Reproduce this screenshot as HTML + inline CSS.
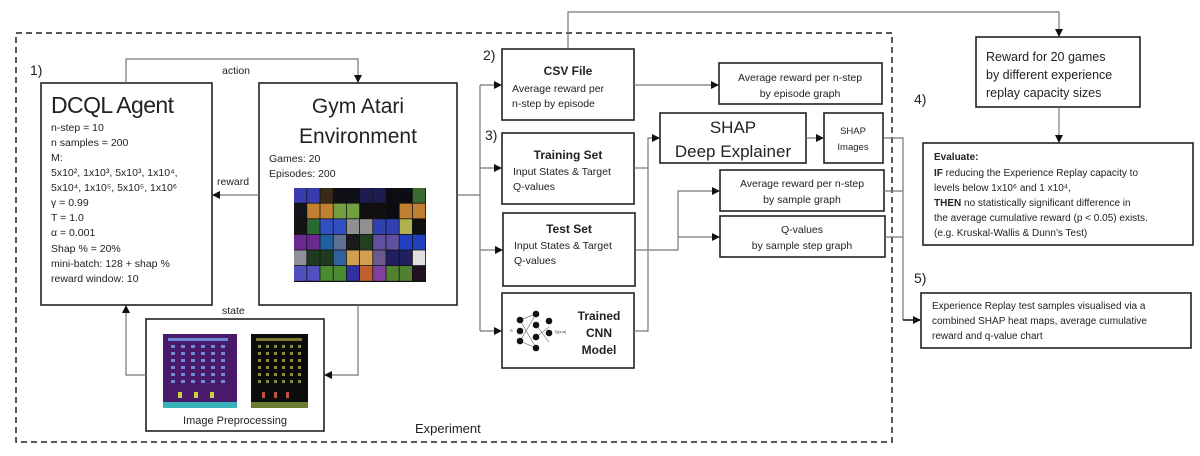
<!DOCTYPE html>
<html><head><meta charset="utf-8"><style>
html,body{margin:0;padding:0;background:#fff;}
svg{display:block;}
text{font-family:"Liberation Sans",sans-serif;fill:#222;}
.b{font-weight:bold;}
</style></head><body>
<svg width="1200" height="456" viewBox="0 0 1200 456" xmlns="http://www.w3.org/2000/svg">
<defs>
<marker id="a" markerWidth="8" markerHeight="8" refX="7" refY="4" orient="auto" markerUnits="userSpaceOnUse">
<path d="M0,0 L8,4 L0,8 z" fill="#111"/></marker>
<pattern id="inv1" x="171" y="345" width="10" height="7" patternUnits="userSpaceOnUse"><rect width="4" height="3" fill="#6a8ad8"/></pattern>
<pattern id="inv2" x="258" y="345" width="8" height="7" patternUnits="userSpaceOnUse"><rect width="3" height="3" fill="#8a8a40"/></pattern>
</defs>
<rect x="16" y="33" width="876" height="409" fill="none" stroke="#222" stroke-width="1.5" stroke-dasharray="6,4"/>
<g fill="none" stroke="#222" stroke-width="1.6">
<rect x="41" y="83" width="171" height="222"/>
<rect x="259" y="83" width="198" height="222"/>
<rect x="146" y="319" width="178" height="112"/>
<rect x="502" y="49" width="132" height="71"/>
<rect x="502" y="133" width="132" height="71"/>
<rect x="503" y="213" width="132" height="73"/>
<rect x="502" y="293" width="132" height="75"/>
<rect x="719" y="63" width="163" height="41"/>
<rect x="660" y="113" width="146" height="50"/>
<rect x="824" y="113" width="59" height="50"/>
<rect x="720" y="170" width="164" height="41"/>
<rect x="720" y="216" width="165" height="41"/>
<rect x="976" y="37" width="164" height="70"/>
<rect x="923" y="143" width="270" height="102"/>
<rect x="921" y="293" width="270" height="55"/>
</g>
<g fill="none" stroke="#777" stroke-width="1.2">
<polyline points="126,83 126,59 358,59 358,82" marker-end="url(#a)"/>
<line x1="259" y1="195" x2="213" y2="195" marker-end="url(#a)"/>
<polyline points="358,305 358,375 325,375" marker-end="url(#a)"/>
<polyline points="146,375 126,375 126,306" marker-end="url(#a)"/>
<line x1="457" y1="195" x2="480" y2="195"/>
<line x1="480" y1="85" x2="480" y2="331"/>
<line x1="480" y1="85" x2="501" y2="85" marker-end="url(#a)"/>
<line x1="480" y1="168" x2="501" y2="168" marker-end="url(#a)"/>
<line x1="480" y1="250" x2="502" y2="250" marker-end="url(#a)"/>
<line x1="480" y1="331" x2="501" y2="331" marker-end="url(#a)"/>
<line x1="634" y1="85" x2="718" y2="85" marker-end="url(#a)"/>
<polyline points="634,168 648,168"/>
<polyline points="634,331 648,331 648,138 659,138" marker-end="url(#a)"/>
<line x1="806" y1="138" x2="823" y2="138" marker-end="url(#a)"/>
<polyline points="635,250 678,250 678,191 719,191" marker-end="url(#a)"/>
<line x1="678" y1="237" x2="719" y2="237" marker-end="url(#a)"/>
<polyline points="883,138 903,138 903,320"/>
<line x1="884" y1="191" x2="903" y2="191"/>
<line x1="885" y1="237" x2="903" y2="237"/>
<line x1="903" y1="320" x2="920" y2="320" stroke="#111" stroke-width="1.5" marker-end="url(#a)"/>
<polyline points="568,49 568,12 1059,12 1059,36" marker-end="url(#a)"/>
<line x1="1059" y1="107" x2="1059" y2="142" marker-end="url(#a)"/>
</g>
<!-- atari grid -->
<rect x="294" y="188" width="132" height="94" fill="#111"/>
<g transform="translate(0,188)">
<rect x="294" width="12.4" height="14.8" fill="#3b3bb0"/><rect x="307.2" width="12.4" height="14.8" fill="#3b3bb0"/><rect x="320.4" width="12.4" height="14.8" fill="#3a2a18"/><rect x="333.6" width="12.4" height="14.8" fill="#101018"/><rect x="346.8" width="12.4" height="14.8" fill="#101018"/><rect x="360" width="12.4" height="14.8" fill="#1c1c50"/><rect x="373.2" width="12.4" height="14.8" fill="#1c1c50"/><rect x="386.4" width="12.4" height="14.8" fill="#0c0c14"/><rect x="399.6" width="12.4" height="14.8" fill="#0c0c14"/><rect x="412.8" width="12.4" height="14.8" fill="#3a6a30"/>
</g>
<g transform="translate(0,203.6)">
<rect x="294" width="12.4" height="14.8" fill="#14141c"/><rect x="307.2" width="12.4" height="14.8" fill="#c08030"/><rect x="320.4" width="12.4" height="14.8" fill="#c08030"/><rect x="333.6" width="12.4" height="14.8" fill="#70a040"/><rect x="346.8" width="12.4" height="14.8" fill="#70a040"/><rect x="360" width="12.4" height="14.8" fill="#101010"/><rect x="373.2" width="12.4" height="14.8" fill="#101010"/><rect x="386.4" width="12.4" height="14.8" fill="#0c0c10"/><rect x="399.6" width="12.4" height="14.8" fill="#c08030"/><rect x="412.8" width="12.4" height="14.8" fill="#c08030"/>
</g>
<g transform="translate(0,219.2)">
<rect x="294" width="12.4" height="14.8" fill="#141414"/><rect x="307.2" width="12.4" height="14.8" fill="#2a6a30"/><rect x="320.4" width="12.4" height="14.8" fill="#3050c0"/><rect x="333.6" width="12.4" height="14.8" fill="#3050c0"/><rect x="346.8" width="12.4" height="14.8" fill="#909090"/><rect x="360" width="12.4" height="14.8" fill="#909090"/><rect x="373.2" width="12.4" height="14.8" fill="#3040b0"/><rect x="386.4" width="12.4" height="14.8" fill="#3040b0"/><rect x="399.6" width="12.4" height="14.8" fill="#b0b050"/><rect x="412.8" width="12.4" height="14.8" fill="#101010"/>
</g>
<g transform="translate(0,234.8)">
<rect x="294" width="12.4" height="14.8" fill="#6a2a90"/><rect x="307.2" width="12.4" height="14.8" fill="#6a2a90"/><rect x="320.4" width="12.4" height="14.8" fill="#2060a0"/><rect x="333.6" width="12.4" height="14.8" fill="#607090"/><rect x="346.8" width="12.4" height="14.8" fill="#1a1a1a"/><rect x="360" width="12.4" height="14.8" fill="#204020"/><rect x="373.2" width="12.4" height="14.8" fill="#6050a0"/><rect x="386.4" width="12.4" height="14.8" fill="#6050a0"/><rect x="399.6" width="12.4" height="14.8" fill="#2040c0"/><rect x="412.8" width="12.4" height="14.8" fill="#2040c0"/>
</g>
<g transform="translate(0,250.4)">
<rect x="294" width="12.4" height="14.8" fill="#909098"/><rect x="307.2" width="12.4" height="14.8" fill="#203a20"/><rect x="320.4" width="12.4" height="14.8" fill="#203a20"/><rect x="333.6" width="12.4" height="14.8" fill="#3060a0"/><rect x="346.8" width="12.4" height="14.8" fill="#d0a050"/><rect x="360" width="12.4" height="14.8" fill="#d0a050"/><rect x="373.2" width="12.4" height="14.8" fill="#6a5a90"/><rect x="386.4" width="12.4" height="14.8" fill="#202060"/><rect x="399.6" width="12.4" height="14.8" fill="#202060"/><rect x="412.8" width="12.4" height="14.8" fill="#e0e0e0"/>
</g>
<g transform="translate(0,266)">
<rect x="294" width="12.4" height="14.8" fill="#5050c0"/><rect x="307.2" width="12.4" height="14.8" fill="#5050c0"/><rect x="320.4" width="12.4" height="14.8" fill="#4a8a30"/><rect x="333.6" width="12.4" height="14.8" fill="#4a8a30"/><rect x="346.8" width="12.4" height="14.8" fill="#3030a0"/><rect x="360" width="12.4" height="14.8" fill="#c06030"/><rect x="373.2" width="12.4" height="14.8" fill="#8040a0"/><rect x="386.4" width="12.4" height="14.8" fill="#508030"/><rect x="399.6" width="12.4" height="14.8" fill="#508030"/><rect x="412.8" width="12.4" height="14.8" fill="#201020"/>
</g>
<!-- preprocessing images -->
<rect x="163" y="334" width="74" height="74" fill="#4a1a6a"/>
<rect x="163" y="402" width="74" height="6" fill="#3ab0b8"/>
<rect x="171" y="345" width="60" height="42" fill="url(#inv1)"/>
<rect x="168" y="338" width="60" height="3" fill="#6a8ad8"/>
<rect x="178" y="392" width="4" height="6" fill="#c0d040"/><rect x="194" y="392" width="4" height="6" fill="#c0d040"/><rect x="210" y="392" width="4" height="6" fill="#c0d040"/>
<rect x="251" y="334" width="57" height="74" fill="#0c0c0c"/>
<rect x="251" y="402" width="57" height="6" fill="#6a7a30"/>
<rect x="258" y="345" width="46" height="42" fill="url(#inv2)"/>
<rect x="256" y="338" width="46" height="3" fill="#7a7a30"/>
<rect x="262" y="392" width="3" height="6" fill="#c05040"/><rect x="274" y="392" width="3" height="6" fill="#c05040"/><rect x="286" y="392" width="3" height="6" fill="#c05040"/>
<!-- CNN icon -->
<g stroke="#333" stroke-width="0.5">
<line x1="520" y1="320" x2="536" y2="314"/><line x1="520" y1="320" x2="536" y2="348"/>
<line x1="520" y1="341" x2="536" y2="314"/><line x1="520" y1="341" x2="536" y2="348"/>
<line x1="536" y1="325" x2="549" y2="342"/><line x1="536" y1="337" x2="549" y2="327"/>
</g>
<g fill="#111">
<circle cx="520" cy="320" r="3.3"/><circle cx="520" cy="331" r="3.3"/><circle cx="520" cy="341" r="3.3"/>
<circle cx="536" cy="314" r="3.3"/><circle cx="536" cy="325" r="3.3"/><circle cx="536" cy="337" r="3.3"/><circle cx="536" cy="348" r="3.3"/>
<circle cx="549" cy="321" r="3.3"/><circle cx="549" cy="333" r="3.3"/>
</g>
<text x="510" y="332" font-size="4">S</text><text x="555" y="333" font-size="4">Q(s,a)</text>

<text x="30" y="75" font-size="14">1)</text>
<text x="483" y="60" font-size="14">2)</text>
<text x="485" y="140" font-size="14">3)</text>
<text x="914" y="104" font-size="14">4)</text>
<text x="914" y="283" font-size="14">5)</text>
<text x="222" y="74" font-size="10.5">action</text>
<text x="217" y="185" font-size="10.5">reward</text>
<text x="222" y="314" font-size="10.5">state</text>
<text x="415" y="433" font-size="13">Experiment</text>

<text x="51" y="113" font-size="23" textLength="123">DCQL Agent</text>
<g font-size="10.5">
<text x="51" y="131">n-step = 10</text>
<text x="51" y="146">n samples = 200</text>
<text x="51" y="161">M:</text>
<text x="51" y="176">5x10², 1x10³, 5x10³, 1x10⁴,</text>
<text x="51" y="191">5x10⁴, 1x10⁵, 5x10⁵, 1x10⁶</text>
<text x="51" y="206">γ = 0.99</text>
<text x="51" y="221">T = 1.0</text>
<text x="51" y="236">α = 0.001</text>
<text x="51" y="252">Shap % = 20%</text>
<text x="51" y="267">mini-batch: 128 + shap %</text>
<text x="51" y="282">reward window: 10</text>
</g>
<text x="358" y="113" font-size="21" text-anchor="middle">Gym Atari</text>
<text x="358" y="143" font-size="21" text-anchor="middle">Environment</text>
<text x="269" y="162" font-size="10.5">Games: 20</text>
<text x="269" y="177" font-size="10.5">Episodes: 200</text>
<text x="235" y="424" font-size="11" text-anchor="middle">Image Preprocessing</text>

<text x="568" y="75" font-size="12" class="b" text-anchor="middle">CSV File</text>
<text x="512" y="92" font-size="10.5">Average reward per</text>
<text x="512" y="107" font-size="10.5">n-step by episode</text>
<text x="568" y="159" font-size="12" class="b" text-anchor="middle">Training Set</text>
<text x="513" y="175" font-size="10.5">Input States &amp; Target</text>
<text x="513" y="190" font-size="10.5">Q-values</text>
<text x="569" y="233" font-size="12" class="b" text-anchor="middle">Test Set</text>
<text x="514" y="249" font-size="10.5">Input States &amp; Target</text>
<text x="514" y="264" font-size="10.5">Q-values</text>
<text x="599" y="320" font-size="12" class="b" text-anchor="middle">Trained</text>
<text x="599" y="337" font-size="12" class="b" text-anchor="middle">CNN</text>
<text x="599" y="354" font-size="12" class="b" text-anchor="middle">Model</text>

<text x="800" y="81" font-size="10.5" text-anchor="middle">Average reward per n-step</text>
<text x="800" y="97" font-size="10.5" text-anchor="middle">by episode graph</text>
<text x="733" y="133" font-size="17" text-anchor="middle">SHAP</text>
<text x="733" y="157" font-size="17" text-anchor="middle">Deep Explainer</text>
<text x="853" y="134" font-size="9.5" text-anchor="middle">SHAP</text>
<text x="853" y="150" font-size="9.5" text-anchor="middle">Images</text>
<text x="802" y="187" font-size="10.5" text-anchor="middle">Average reward per n-step</text>
<text x="802" y="203" font-size="10.5" text-anchor="middle">by sample graph</text>
<text x="802" y="233" font-size="10.5" text-anchor="middle">Q-values</text>
<text x="802" y="249" font-size="10.5" text-anchor="middle">by sample step graph</text>

<text x="986" y="61" font-size="12.5">Reward for 20 games</text>
<text x="986" y="79" font-size="12.5">by different experience</text>
<text x="986" y="97" font-size="12.5">replay capacity sizes</text>

<g font-size="10">
<text x="934" y="160" class="b">Evaluate:</text>
<text x="934" y="176"><tspan class="b">IF</tspan> reducing the Experience Replay capacity to</text>
<text x="934" y="191">levels below 1x10⁶ and 1 x10⁴,</text>
<text x="934" y="206"><tspan class="b">THEN</tspan> no statistically significant difference in</text>
<text x="934" y="221">the average cumulative reward (p &lt; 0.05) exists.</text>
<text x="934" y="236">(e.g. Kruskal-Wallis &amp; Dunn’s Test)</text>
<text x="932" y="309">Experience Replay test samples visualised via a</text>
<text x="932" y="324">combined SHAP heat maps, average cumulative</text>
<text x="932" y="339">reward and q-value chart</text>
</g>
</svg>
</body></html>
